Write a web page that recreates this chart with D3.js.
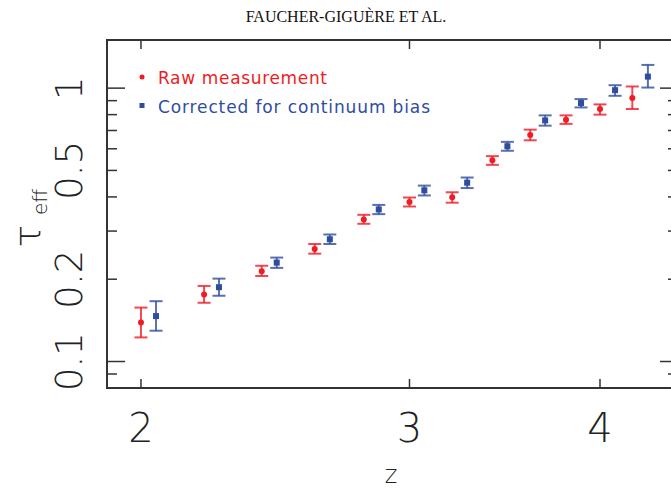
<!DOCTYPE html>
<html>
<head>
<meta charset="utf-8">
<script src="https://cdnjs.cloudflare.com/ajax/libs/d3/7.8.5/d3.min.js"></script>
<style>
  body { margin: 0; background: #fff; }
  svg { display: block; }
  .tick-label { font-family: "DejaVu Sans", sans-serif; font-weight: 200; fill: #222; }
  .legend { font-family: "DejaVu Sans", sans-serif; font-size: 17px; }
</style>
</head>
<body>
<div id="chart"></div>
<script>
// redshift bins
let z_raw = [2.0, 2.2, 2.4, 2.6, 2.8, 3.0, 3.2, 3.4, 3.6, 3.8, 4.0, 4.2];
let z_corr = [2.046, 2.25, 2.455, 2.66, 2.864, 3.068, 3.273, 3.478, 3.682, 3.887, 4.092, 4.3];

// tau_eff raw measurement with error bar ends
let tau_raw = [0.139, 0.176, 0.214, 0.258, 0.331, 0.383, 0.399, 0.545, 0.674, 0.767, 0.839, 0.920];
let tau_raw_lo = [0.1225, 0.164, 0.2055, 0.248, 0.319, 0.369, 0.381, 0.524, 0.6445, 0.740, 0.800, 0.839];
let tau_raw_hi = [0.1575, 0.189, 0.224, 0.269, 0.344, 0.398, 0.416, 0.564, 0.705, 0.795, 0.872, 1.014];

// tau_eff corrected for continuum bias
let tau_corr = [0.1466, 0.187, 0.230, 0.280, 0.360, 0.423, 0.451, 0.613, 0.762, 0.882, 0.983, 1.102];
let tau_corr_lo = [0.1296, 0.174, 0.220, 0.269, 0.346, 0.405, 0.431, 0.590, 0.729, 0.850, 0.9375, 1.005];
let tau_corr_hi = [0.1662, 0.201, 0.240, 0.2915, 0.374, 0.440, 0.471, 0.636, 0.795, 0.912, 1.025, 1.216];

let x_ticks = [2, 3, 4];
let y_major = [0.1, 1];
let y_minor = [0.09, 0.2, 0.3, 0.4, 0.5, 0.6, 0.7, 0.8, 0.9];
let y_labels = [0.1, 0.2, 0.5, 1];

let total_width = 671;
let total_height = 489;
let m_left = 107, m_right = 678, m_top = 40, m_bottom = 388;
let red = "#ee1c25";
let blue = "#2f4d9f";

let svg = d3.select("#chart").append("svg")
    .attr("width", total_width)
    .attr("height", total_height);

var x = d3.scaleLog().domain([1.9, 4.5]).range([m_left, m_right]);
var y = d3.scaleLog().domain([0.08, 1.5]).range([m_bottom, m_top]);

// header
svg.append("text")
    .attr("x", 346).attr("y", 22)
    .attr("text-anchor", "middle")
    .style("font-family", "'Liberation Serif', 'Times New Roman', serif")
    .style("font-size", "16px")
    .attr("fill", "#111")
    .text("FAUCHER-GIGUÈRE ET AL.");

// frame
svg.append("rect")
    .attr("x", m_left).attr("y", m_top)
    .attr("width", m_right - m_left).attr("height", m_bottom - m_top)
    .attr("fill", "none").attr("stroke", "#333").attr("stroke-width", 2);

// x ticks, bottom and top
let tk = svg.append("g").attr("stroke", "#333").attr("stroke-width", 1.5);
x_ticks.forEach(d => {
    tk.append("line").attr("x1", x(d)).attr("x2", x(d)).attr("y1", m_bottom).attr("y2", m_bottom - 9);
    tk.append("line").attr("x1", x(d)).attr("x2", x(d)).attr("y1", m_top).attr("y2", m_top + 9);
});
// y ticks, left and right
y_major.forEach(d => {
    tk.append("line").attr("x1", m_left).attr("x2", m_left + 18).attr("y1", y(d)).attr("y2", y(d));
    tk.append("line").attr("x1", m_right).attr("x2", m_right - 18).attr("y1", y(d)).attr("y2", y(d));
});
y_minor.forEach(d => {
    tk.append("line").attr("x1", m_left).attr("x2", m_left + 10).attr("y1", y(d)).attr("y2", y(d));
    tk.append("line").attr("x1", m_right).attr("x2", m_right - 10).attr("y1", y(d)).attr("y2", y(d));
});

// tick labels
svg.append("g").selectAll("text").data(x_ticks).enter().append("text")
    .attr("class", "tick-label")
    .attr("x", d => x(d)).attr("y", 442)
    .attr("text-anchor", "middle")
    .style("font-size", "40px")
    .text(d => d);

svg.append("g").selectAll("text").data(y_labels).enter().append("text")
    .attr("class", "tick-label")
    .attr("transform", d => "translate(82," + y(d) + ") rotate(-90)")
    .attr("text-anchor", "middle")
    .style("font-size", "37px")
    .text(d => d);

// axis titles
svg.append("text")
    .attr("class", "tick-label")
    .attr("x", 391).attr("y", 483)
    .attr("text-anchor", "middle")
    .style("font-size", "24px")
    .text("z");

svg.append("text")
    .attr("class", "tick-label")
    .attr("transform", "translate(41,236) rotate(-90)")
    .attr("text-anchor", "middle")
    .style("font-size", "38px")
    .text("τ");
svg.append("text")
    .attr("class", "tick-label")
    .attr("transform", "translate(47,215) rotate(-90)")
    .attr("text-anchor", "start")
    .style("font-size", "20px")
    .text("eff");

// error bars
function errbars(zs, lo, hi, col){
    let g = svg.append("g").attr("stroke", col).attr("stroke-width", 2).attr("stroke-opacity", 0.8);
    zs.forEach((d, i) => {
        g.append("line").attr("x1", x(d)).attr("x2", x(d)).attr("y1", y(lo[i])).attr("y2", y(hi[i]));
        g.append("line").attr("x1", x(d) - 6.5).attr("x2", x(d) + 6.5).attr("y1", y(lo[i])).attr("y2", y(lo[i]));
        g.append("line").attr("x1", x(d) - 6.5).attr("x2", x(d) + 6.5).attr("y1", y(hi[i])).attr("y2", y(hi[i]));
    });
}
errbars(z_raw, tau_raw_lo, tau_raw_hi, red);
errbars(z_corr, tau_corr_lo, tau_corr_hi, blue);

svg.append("g").selectAll("circle").data(z_raw).enter().append("circle")
    .attr("cx", d => x(d)).attr("cy", (d, i) => y(tau_raw[i]))
    .attr("r", 3).attr("fill", red);

svg.append("g").selectAll("rect").data(z_corr).enter().append("rect")
    .attr("x", d => x(d) - 3).attr("y", (d, i) => y(tau_corr[i]) - 3)
    .attr("width", 6).attr("height", 6).attr("fill", blue);

// legend
svg.append("circle").attr("cx", 142).attr("cy", 77).attr("r", 2.5).attr("fill", red);
svg.append("text").attr("class", "legend").attr("x", 158).attr("y", 84)
    .attr("fill", red).attr("textLength", 169).attr("lengthAdjust", "spacing")
    .text("Raw measurement");
svg.append("rect").attr("x", 139.5).attr("y", 103).attr("width", 5).attr("height", 5).attr("fill", blue);
svg.append("text").attr("class", "legend").attr("x", 158).attr("y", 112.5)
    .attr("fill", blue).attr("textLength", 272).attr("lengthAdjust", "spacing")
    .text("Corrected for continuum bias");
</script>
</body>
</html>
